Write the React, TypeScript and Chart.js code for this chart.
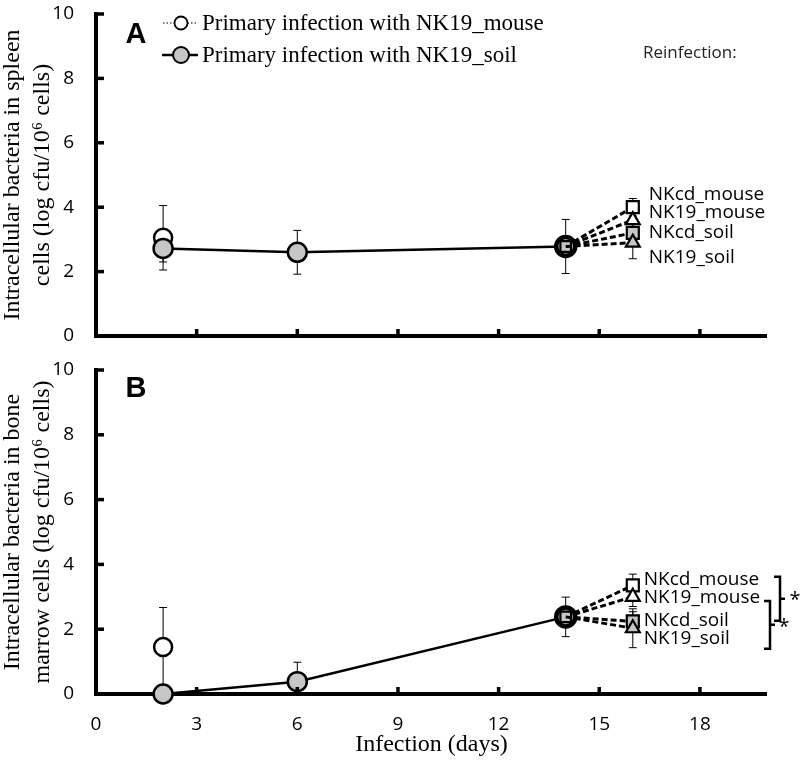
import React, { useEffect, useRef } from "react";
import { Chart, registerables } from "chart.js";

Chart.register(...registerables);

// ---------- data ----------
const primaryDays = [2, 6, 14];
const mouseDays = [2];
const reinfDays = [14, 16];
const reinfLabels = ["NKcd_mouse", "NK19_mouse", "NKcd_soil", "NK19_soil"];
const xTickValues = [0, 3, 6, 9, 12, 15, 18];
const yTickValues = [0, 2, 4, 6, 8, 10];

// Panel A: spleen
const spleenSoil = [2.72, 2.6, 2.78];
const spleenSoilErr = [0.42, 0.68, 0.84];
const spleenMouse = [3.05];
const spleenMouseErr = [1.0];
const spleenReinf = [4.0, 3.6, 3.2, 2.9];
const spleenReinfErr = [0.27, 0.25, 0.3, 0.5];

// Panel B: bone marrow
const marrowSoil = [0, 0.38, 2.38];
const marrowSoilErr = [0, 0.6, 0.61];
const marrowMouse = [1.45];
const marrowMouseErr = [1.22];
const marrowReinf = [3.35, 3.0, 2.24, 2.03];
const marrowReinfErr = [0.35, 0.3, 0.3, 0.6];

// significance brackets (value ranges) for panel B
const marrowBracketHigh = [3.62, 2.87];
const marrowBracketLow = [2.26, 1.4];

// ---------- styles ----------
const GRAY = "#c6c6c6";
const SERIF = '"Liberation Serif", "Times New Roman", serif';
const SANS = '"Open Sans", "DejaVu Sans", sans-serif';
const reinfStyles = ["rect", "triangle", "rect", "triangle"];
const reinfFills = ["#ffffff", "#ffffff", GRAY, GRAY];

type PanelCfg = {
  top: number;
  height: number;
  xAxisHeight: number;
  showX: boolean;
  letter: string;
  letterY: number;
  yTitle: string[];
  soil: number[];
  soilErr: number[];
  mouse: number[];
  mouseErr: number[];
  reinf: number[];
  reinfErr: number[];
  labelDx: number;
  labelDy: number[];
  legend: boolean;
  brackets: { hi: number; lo: number; dx: number; sdx: number; sdy: number }[];
};

const panelA: PanelCfg = {
  top: 0,
  height: 350,
  xAxisHeight: 14,
  showX: false,
  letter: "A",
  letterY: 35,
  yTitle: ["Intracellular bacteria in spleen", "cells (log cfu/10\u2076 cells)"],
  soil: spleenSoil,
  soilErr: spleenSoilErr,
  mouse: spleenMouse,
  mouseErr: spleenMouseErr,
  reinf: spleenReinf,
  reinfErr: spleenReinfErr,
  labelDx: 16,
  labelDy: [-13, -7, 0, 15],
  legend: true,
  brackets: [],
};

const panelB: PanelCfg = {
  top: 356,
  height: 404,
  xAxisHeight: 66,
  showX: true,
  letter: "B",
  letterY: 33,
  yTitle: ["Intracellular bacteria in bone", "marrow cells (log cfu/10\u2076 cells)"],
  soil: marrowSoil,
  soilErr: marrowSoilErr,
  mouse: marrowMouse,
  mouseErr: marrowMouseErr,
  reinf: marrowReinf,
  reinfErr: marrowReinfErr,
  labelDx: 11,
  labelDy: [-6, 1, -1, 10],
  legend: false,
  brackets: [
    { hi: marrowBracketHigh[0], lo: marrowBracketLow[0], dx: 13, sdx: 15, sdy: 2 },
    { hi: marrowBracketHigh[1], lo: marrowBracketLow[1], dx: 3, sdx: 14, sdy: 2 },
  ],
};

const errorBarPlugin = {
  id: "errbars",
  beforeDatasetsDraw(chart: any) {
    const ctx = chart.ctx;
    const ys = chart.scales.y;
    chart.data.datasets.forEach((ds: any, di: number) => {
      const errs = ds.errors;
      if (!errs) return;
      const meta = chart.getDatasetMeta(di);
      ds.data.forEach((p: any, i: number) => {
        const e = errs[i];
        if (!e) return;
        const x = meta.data[i].x;
        const top = ys.getPixelForValue(p.y + e);
        const bot = ys.getPixelForValue(Math.max(p.y - e, ys.min));
        ctx.save();
        ctx.strokeStyle = "#000";
        ctx.lineWidth = 1;
        ctx.beginPath();
        ctx.moveTo(x, top);
        ctx.lineTo(x, bot);
        ctx.moveTo(x - 4, top);
        ctx.lineTo(x + 4, top);
        ctx.moveTo(x - 4, bot);
        ctx.lineTo(x + 4, bot);
        ctx.stroke();
        ctx.restore();
      });
    });
  },
};

function makeAnnotPlugin(p: PanelCfg) {
  return {
    id: "annot" + p.letter,
    afterDraw(chart: any) {
      const ctx = chart.ctx;
      const area = chart.chartArea;
      const xs = chart.scales.x;
      const ys = chart.scales.y;
      ctx.save();
      // inward tick marks
      ctx.strokeStyle = "#000";
      ctx.lineWidth = 3.5;
      ys.ticks.forEach((t: any) => {
        if (t.value === 0) return;
        const y = ys.getPixelForValue(t.value);
        ctx.beginPath();
        ctx.moveTo(area.left, y);
        ctx.lineTo(area.left + 8, y);
        ctx.stroke();
      });
      xs.ticks.forEach((t: any) => {
        if (t.value === 0) return;
        const x = xs.getPixelForValue(t.value);
        ctx.beginPath();
        ctx.moveTo(x, area.bottom);
        ctx.lineTo(x, area.bottom - 7);
        ctx.stroke();
      });

      // panel letter
      ctx.fillStyle = "#000";
      ctx.font = 'bold 29px "Liberation Sans", Arial, sans-serif';
      ctx.textAlign = "center";
      ctx.textBaseline = "middle";
      ctx.fillText(p.letter, 136, p.letterY);

      // legend
      if (p.legend) {
        ctx.textAlign = "left";
        ctx.font = "23px " + SERIF;
        // row 1: mouse
        ctx.lineWidth = 1.2;
        ctx.setLineDash([1.5, 2]);
        ctx.beginPath();
        ctx.moveTo(163, 23);
        ctx.lineTo(198, 23);
        ctx.stroke();
        ctx.setLineDash([]);
        ctx.beginPath();
        ctx.arc(181, 23, 6.5, 0, Math.PI * 2);
        ctx.fillStyle = "#fff";
        ctx.fill();
        ctx.lineWidth = 1.8;
        ctx.stroke();
        ctx.fillStyle = "#000";
        ctx.fillText("Primary infection with NK19_mouse", 202, 24);
        // row 2: soil
        ctx.lineWidth = 2.5;
        ctx.beginPath();
        ctx.moveTo(162, 55);
        ctx.lineTo(198, 55);
        ctx.stroke();
        ctx.beginPath();
        ctx.arc(181, 55, 8, 0, Math.PI * 2);
        ctx.fillStyle = GRAY;
        ctx.fill();
        ctx.lineWidth = 2;
        ctx.stroke();
        ctx.fillStyle = "#000";
        ctx.fillText("Primary infection with NK19_soil", 202, 56);
        // Reinfection header
        ctx.font = "17px " + SANS;
        ctx.fillStyle = "#222";
        ctx.fillText("Reinfection:", 643, 53);
      }

      // reinfection labels
      ctx.fillStyle = "#000";
      ctx.textAlign = "left";
      ctx.textBaseline = "middle";
      ctx.font = "19px " + SANS;
      reinfLabels.forEach((lab, i) => {
        const meta = chart.getDatasetMeta(2 + i);
        const pt = meta.data[1];
        ctx.fillText(lab, pt.x + p.labelDx, pt.y + p.labelDy[i]);
      });

      // brackets
      p.brackets.forEach((b) => {
        const x = area.right + b.dx;
        const y1 = ys.getPixelForValue(b.hi);
        const y2 = ys.getPixelForValue(b.lo);
        const ym = (y1 + y2) / 2;
        ctx.strokeStyle = "#000";
        ctx.lineWidth = 2.5;
        ctx.beginPath();
        ctx.moveTo(x - 6, y1);
        ctx.lineTo(x, y1);
        ctx.lineTo(x, y2);
        ctx.lineTo(x - 6, y2);
        ctx.moveTo(x, ym);
        ctx.lineTo(x + 5, ym);
        ctx.stroke();
        ctx.font = "20px " + SANS;
        ctx.textAlign = "center";
        ctx.fillText("*", x + b.sdx, ym + b.sdy);
      });
      ctx.restore();
    },
  };
}

function buildConfig(p: PanelCfg): any {
  const soilStart = p.soil[p.soil.length - 1];
  const datasets: any[] = [
    {
      label: "Primary infection with NK19_mouse",
      data: mouseDays.map((d, i) => ({ x: d, y: p.mouse[i] })),
      errors: p.mouseErr,
      borderColor: "#000",
      borderWidth: 1,
      borderDash: [2, 2],
      pointStyle: "circle",
      pointRadius: 9,
      pointBackgroundColor: "#fff",
      pointBorderColor: "#000",
      pointBorderWidth: 2.5,
      clip: false,
      order: 6,
    },
    {
      label: "Primary infection with NK19_soil",
      data: primaryDays.map((d, i) => ({ x: d, y: p.soil[i] })),
      errors: p.soilErr,
      borderColor: "#000",
      borderWidth: 2.5,
      pointStyle: "circle",
      pointRadius: 9.5,
      pointBackgroundColor: GRAY,
      pointBorderColor: "#000",
      pointBorderWidth: [2.5, 2.5, 4.5],
      clip: false,
      order: 5,
    },
    ...reinfLabels.map((lab, i) => ({
      label: lab,
      data: reinfDays.map((d, j) => ({ x: d, y: j === 0 ? soilStart : p.reinf[i] })),
      errors: [0, p.reinfErr[i]],
      borderColor: "#000",
      borderWidth: 3,
      borderDash: [6, 3],
      pointStyle: reinfStyles[i],
      pointRadius: [i === 2 ? 7.5 : 0, i % 2 === 0 ? 8.5 : 8],
      pointBackgroundColor: reinfFills[i],
      pointBorderColor: "#000",
      pointBorderWidth: 2.2,
      clip: false,
      order: 4 - i,
    })),
  ];

  return {
    type: "line",
    data: { datasets },
    options: {
      responsive: false,
      maintainAspectRatio: false,
      animation: false,
      events: [],
      layout: { padding: { top: 0, right: 33, left: 0, bottom: 0 } },
      elements: { line: { tension: 0 } },
      plugins: { legend: { display: false }, tooltip: { enabled: false }, title: { display: false } },
      scales: {
        x: {
          type: "linear",
          min: 0,
          max: 20,
          afterBuildTicks: (s: any) => {
            s.ticks = xTickValues.map((v) => ({ value: v }));
          },
          afterFit: (s: any) => {
            s.height = p.xAxisHeight;
          },
          grid: { display: true, drawOnChartArea: false, drawTicks: false, color: "rgba(0,0,0,0)", lineWidth: 0 },
          border: { display: true, color: "#000", width: 4 },
          ticks: {
            display: p.showX,
            padding: 19,
            color: "#000",
            font: { family: SANS, size: 19 },
          },
          title: {
            display: p.showX,
            text: "Infection (days)",
            color: "#000",
            font: { family: SERIF, size: 24 },
            padding: { top: 0, bottom: 1 },
          },
        },
        y: {
          type: "linear",
          min: 0,
          max: 10,
          afterBuildTicks: (s: any) => {
            s.ticks = yTickValues.map((v) => ({ value: v }));
          },
          afterFit: (s: any) => {
            s.width = 96;
          },
          grid: {
            display: true,
            drawOnChartArea: false,
            drawTicks: true,
            tickLength: 22,
            tickColor: "rgba(0,0,0,0)",
            color: "rgba(0,0,0,0)",
            lineWidth: 0,
          },
          border: { display: true, color: "#000", width: 4 },
          ticks: {
            padding: 0,
            color: "#000",
            font: { family: SANS, size: 19, lineHeight: 20 / 19 },
          },
          title: {
            display: true,
            text: p.yTitle,
            color: "#000",
            font: { family: SERIF, size: 24, lineHeight: 1.25 },
            padding: { top: -2, bottom: 0 },
          },
        },
      },
    },
    plugins: [errorBarPlugin, makeAnnotPlugin(p)],
  };
}

function Panel({ cfg }: { cfg: PanelCfg }) {
  const ref = useRef<HTMLCanvasElement>(null);
  useEffect(() => {
    if (!ref.current) return;
    const chart = new Chart(ref.current, buildConfig(cfg));
    return () => chart.destroy();
  }, [cfg]);
  return (
    <canvas
      ref={ref}
      width={800}
      height={cfg.height}
      style={{ position: "absolute", left: 0, top: cfg.top, width: 800, height: cfg.height, display: "block" }}
    />
  );
}

export default function App() {
  return (
    <div style={{ position: "absolute", left: 0, top: 0, width: 800, height: 760, background: "#fff" }}>
      <Panel cfg={panelA} />
      <Panel cfg={panelB} />
    </div>
  );
}
